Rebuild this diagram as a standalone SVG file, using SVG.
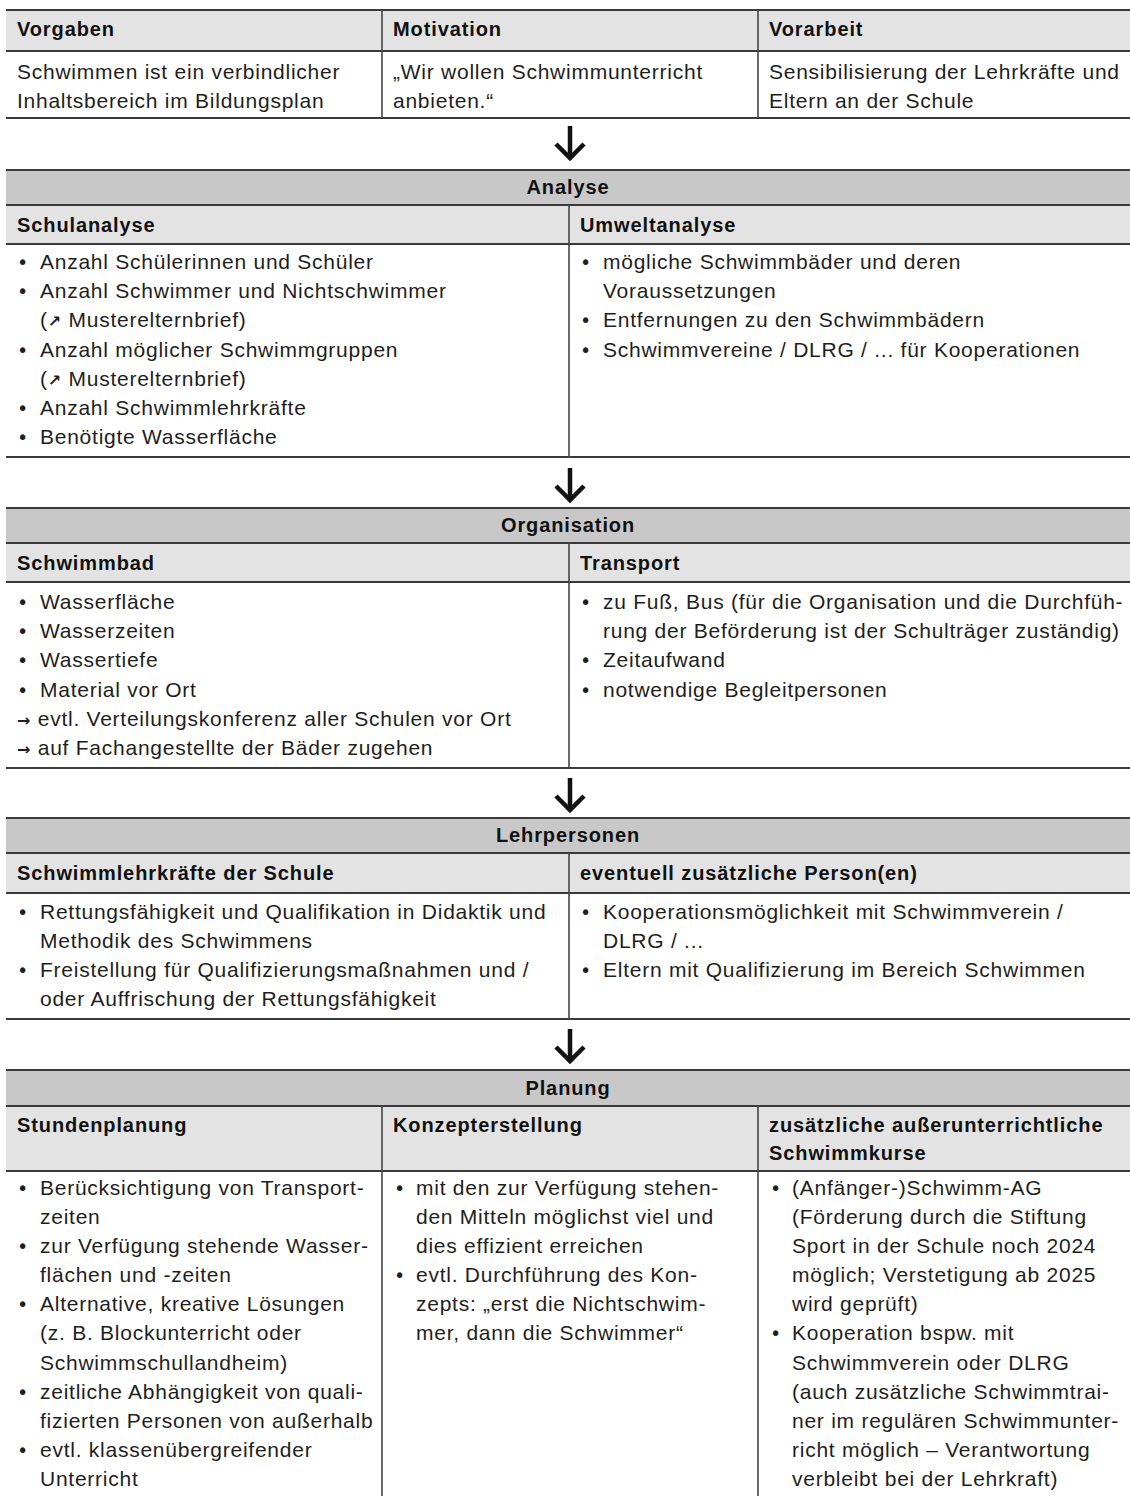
<svg xmlns="http://www.w3.org/2000/svg" width="1130" height="1496" viewBox="0 0 1130 1496">
<style>
text{font-family:"Liberation Sans",Arial,"DejaVu Sans",sans-serif;fill:#1e1e1e}
.t{font-size:21px;letter-spacing:0.75px}
.bl{font-family:"DejaVu Sans",sans-serif;font-size:19px}
.ar{font-family:"DejaVu Sans",sans-serif;font-size:16px;font-weight:bold}
.b{font-size:20px;font-weight:bold;letter-spacing:0.9px;fill:#111}
.c{text-anchor:middle}
.hd{fill:#e3e3e3}
.band{fill:#c8c8c8}
.h{stroke:#3a3a3a;stroke-width:2;fill:none}
.v{stroke:#444;stroke-width:1.6;fill:none}
.arr{stroke:#111;stroke-width:4.5;fill:none;stroke-linecap:butt;stroke-linejoin:miter}
</style>
<rect width="1130" height="1496" fill="#fff"/>

<g id="top-table">
<rect class="hd" x="6" y="10" width="1124" height="41"/>
<line class="h" x1="6" y1="10" x2="1130" y2="10"/>
<line class="h" x1="6" y1="51" x2="1130" y2="51"/>
<line class="h" x1="6" y1="118" x2="1130" y2="118"/>
<line class="v" x1="382" y1="10" x2="382" y2="118"/>
<line class="v" x1="758" y1="10" x2="758" y2="118"/>
<g id="vorgaben">
<text class="b" x="17" y="36">Vorgaben</text>
<text class="t" x="17" y="79">Schwimmen ist ein verbindlicher</text>
<text class="t" x="17" y="108">Inhaltsbereich im Bildungsplan</text>
</g>
<g id="motivation">
<text class="b" x="393" y="36">Motivation</text>
<text class="t" x="393" y="79">„Wir wollen Schwimmunterricht</text>
<text class="t" x="393" y="108">anbieten.“</text>
</g>
<g id="vorarbeit">
<text class="b" x="769" y="36">Vorarbeit</text>
<text class="t" x="769" y="79">Sensibilisierung der Lehrkräfte und</text>
<text class="t" x="769" y="108">Eltern an der Schule</text>
</g>
</g>

<g id="analyse">
<rect class="band" x="6" y="170" width="1124" height="35"/>
<rect class="hd" x="6" y="205" width="1124" height="39"/>
<line class="h" x1="6" y1="170" x2="1130" y2="170"/>
<line class="h" x1="6" y1="205" x2="1130" y2="205"/>
<line class="h" x1="6" y1="244" x2="1130" y2="244"/>
<line class="h" x1="6" y1="457" x2="1130" y2="457"/>
<line class="v" x1="569" y1="205" x2="569" y2="457"/>
<text class="b c" x="568" y="194">Analyse</text>
<g id="schulanalyse">
<text class="b" x="17" y="232">Schulanalyse</text>
<text class="bl" x="17" y="269">•</text><text class="t" x="40" y="269">Anzahl Schülerinnen und Schüler</text>
<text class="bl" x="17" y="298">•</text><text class="t" x="40" y="298">Anzahl Schwimmer und Nichtschwimmer</text>
<text class="t" x="40" y="327">(<tspan class="ar">↗</tspan> Musterelternbrief)</text>
<text class="bl" x="17" y="357">•</text><text class="t" x="40" y="357">Anzahl möglicher Schwimmgruppen</text>
<text class="t" x="40" y="386">(<tspan class="ar">↗</tspan> Musterelternbrief)</text>
<text class="bl" x="17" y="415">•</text><text class="t" x="40" y="415">Anzahl Schwimmlehrkräfte</text>
<text class="bl" x="17" y="444">•</text><text class="t" x="40" y="444">Benötigte Wasserfläche</text>
</g>
<g id="umweltanalyse">
<text class="b" x="580" y="232">Umweltanalyse</text>
<text class="bl" x="580" y="269">•</text><text class="t" x="603" y="269">mögliche Schwimmbäder und deren</text>
<text class="t" x="603" y="298">Voraussetzungen</text>
<text class="bl" x="580" y="327">•</text><text class="t" x="603" y="327">Entfernungen zu den Schwimmbädern</text>
<text class="bl" x="580" y="357">•</text><text class="t" x="603" y="357">Schwimmvereine / DLRG / ... für Kooperationen</text>
</g>
</g>

<g id="organisation">
<rect class="band" x="6" y="508" width="1124" height="35"/>
<rect class="hd" x="6" y="543" width="1124" height="39"/>
<line class="h" x1="6" y1="508" x2="1130" y2="508"/>
<line class="h" x1="6" y1="543" x2="1130" y2="543"/>
<line class="h" x1="6" y1="582" x2="1130" y2="582"/>
<line class="h" x1="6" y1="768" x2="1130" y2="768"/>
<line class="v" x1="569" y1="543" x2="569" y2="768"/>
<text class="b c" x="568" y="532">Organisation</text>
<g id="schwimmbad">
<text class="b" x="17" y="570">Schwimmbad</text>
<text class="bl" x="17" y="609">•</text><text class="t" x="40" y="609">Wasserfläche</text>
<text class="bl" x="17" y="638">•</text><text class="t" x="40" y="638">Wasserzeiten</text>
<text class="bl" x="17" y="667">•</text><text class="t" x="40" y="667">Wassertiefe</text>
<text class="bl" x="17" y="697">•</text><text class="t" x="40" y="697">Material vor Ort</text>
<text class="t" x="17" y="726"><tspan class="ar">→</tspan> evtl. Verteilungskonferenz aller Schulen vor Ort</text>
<text class="t" x="17" y="755"><tspan class="ar">→</tspan> auf Fachangestellte der Bäder zugehen</text>
</g>
<g id="transport">
<text class="b" x="580" y="570">Transport</text>
<text class="bl" x="580" y="609">•</text><text class="t" x="603" y="609">zu Fuß, Bus (für die Organisation und die Durchfüh-</text>
<text class="t" x="603" y="638">rung der Beförderung ist der Schulträger zuständig)</text>
<text class="bl" x="580" y="667">•</text><text class="t" x="603" y="667">Zeitaufwand</text>
<text class="bl" x="580" y="697">•</text><text class="t" x="603" y="697">notwendige Begleitpersonen</text>
</g>
</g>

<g id="lehrpersonen">
<rect class="band" x="6" y="818" width="1124" height="35"/>
<rect class="hd" x="6" y="853" width="1124" height="40"/>
<line class="h" x1="6" y1="818" x2="1130" y2="818"/>
<line class="h" x1="6" y1="853" x2="1130" y2="853"/>
<line class="h" x1="6" y1="893" x2="1130" y2="893"/>
<line class="h" x1="6" y1="1019" x2="1130" y2="1019"/>
<line class="v" x1="569" y1="853" x2="569" y2="1019"/>
<text class="b c" x="568" y="842">Lehrpersonen</text>
<g id="schwimmlehrkraefte">
<text class="b" x="17" y="880">Schwimmlehrkräfte der Schule</text>
<text class="bl" x="17" y="919">•</text><text class="t" x="40" y="919">Rettungsfähigkeit und Qualifikation in Didaktik und</text>
<text class="t" x="40" y="948">Methodik des Schwimmens</text>
<text class="bl" x="17" y="977">•</text><text class="t" x="40" y="977">Freistellung für Qualifizierungsmaßnahmen und /</text>
<text class="t" x="40" y="1006">oder Auffrischung der Rettungsfähigkeit</text>
</g>
<g id="zusaetzliche-personen">
<text class="b" x="580" y="880">eventuell zusätzliche Person(en)</text>
<text class="bl" x="580" y="919">•</text><text class="t" x="603" y="919">Kooperationsmöglichkeit mit Schwimmverein /</text>
<text class="t" x="603" y="948">DLRG /  ...</text>
<text class="bl" x="580" y="977">•</text><text class="t" x="603" y="977">Eltern mit Qualifizierung im Bereich Schwimmen</text>
</g>
</g>

<g id="planung">
<rect class="band" x="6" y="1070" width="1124" height="36"/>
<rect class="hd" x="6" y="1106" width="1124" height="65"/>
<line class="h" x1="6" y1="1070" x2="1130" y2="1070"/>
<line class="h" x1="6" y1="1106" x2="1130" y2="1106"/>
<line class="h" x1="6" y1="1171" x2="1130" y2="1171"/>
<line class="v" x1="382" y1="1106" x2="382" y2="1496"/>
<line class="v" x1="758" y1="1106" x2="758" y2="1496"/>
<text class="b c" x="568" y="1095">Planung</text>
<g id="stundenplanung">
<text class="b" x="17" y="1132">Stundenplanung</text>
<text class="bl" x="17" y="1195">•</text><text class="t" x="40" y="1195">Berücksichtigung von Transport-</text>
<text class="t" x="40" y="1224">zeiten</text>
<text class="bl" x="17" y="1253">•</text><text class="t" x="40" y="1253">zur Verfügung stehende Wasser-</text>
<text class="t" x="40" y="1282">flächen und -zeiten</text>
<text class="bl" x="17" y="1311">•</text><text class="t" x="40" y="1311">Alternative, kreative Lösungen</text>
<text class="t" x="40" y="1340">(z. B. Blockunterricht oder</text>
<text class="t" x="40" y="1370">Schwimmschullandheim)</text>
<text class="bl" x="17" y="1399">•</text><text class="t" x="40" y="1399">zeitliche Abhängigkeit von quali-</text>
<text class="t" x="40" y="1428">fizierten Personen von außerhalb</text>
<text class="bl" x="17" y="1457">•</text><text class="t" x="40" y="1457">evtl. klassenübergreifender</text>
<text class="t" x="40" y="1486">Unterricht</text>
</g>
<g id="konzepterstellung">
<text class="b" x="393" y="1132">Konzepterstellung</text>
<text class="bl" x="394" y="1195">•</text><text class="t" x="416" y="1195">mit den zur Verfügung stehen-</text>
<text class="t" x="416" y="1224">den Mitteln möglichst viel und</text>
<text class="t" x="416" y="1253">dies effizient erreichen</text>
<text class="bl" x="394" y="1282">•</text><text class="t" x="416" y="1282">evtl. Durchführung des Kon-</text>
<text class="t" x="416" y="1311">zepts: „erst die Nichtschwim-</text>
<text class="t" x="416" y="1340">mer, dann die Schwimmer“</text>
</g>
<g id="schwimmkurse">
<text class="b" x="769" y="1132">zusätzliche außerunterrichtliche</text>
<text class="b" x="769" y="1160">Schwimmkurse</text>
<text class="bl" x="770" y="1195">•</text><text class="t" x="792" y="1195">(Anfänger-)Schwimm-AG</text>
<text class="t" x="792" y="1224">(Förderung durch die Stiftung</text>
<text class="t" x="792" y="1253">Sport in der Schule noch 2024</text>
<text class="t" x="792" y="1282">möglich; Verstetigung ab 2025</text>
<text class="t" x="792" y="1311">wird geprüft)</text>
<text class="bl" x="770" y="1340">•</text><text class="t" x="792" y="1340">Kooperation bspw. mit</text>
<text class="t" x="792" y="1370">Schwimmverein oder DLRG</text>
<text class="t" x="792" y="1399">(auch zusätzliche Schwimmtrai-</text>
<text class="t" x="792" y="1428">ner im regulären Schwimmunter-</text>
<text class="t" x="792" y="1457">richt möglich – Verantwortung</text>
<text class="t" x="792" y="1486">verbleibt bei der Lehrkraft)</text>
</g>
</g>

<g id="connectors">
<path class="arr" d="M570 126V158M556 144L570 158L584 144"/>
<path class="arr" d="M570 468V500M556 486L570 500L584 486"/>
<path class="arr" d="M570 778V810M556 796L570 810L584 796"/>
<path class="arr" d="M570 1029V1061M556 1047L570 1061L584 1047"/>
</g>
</svg>
